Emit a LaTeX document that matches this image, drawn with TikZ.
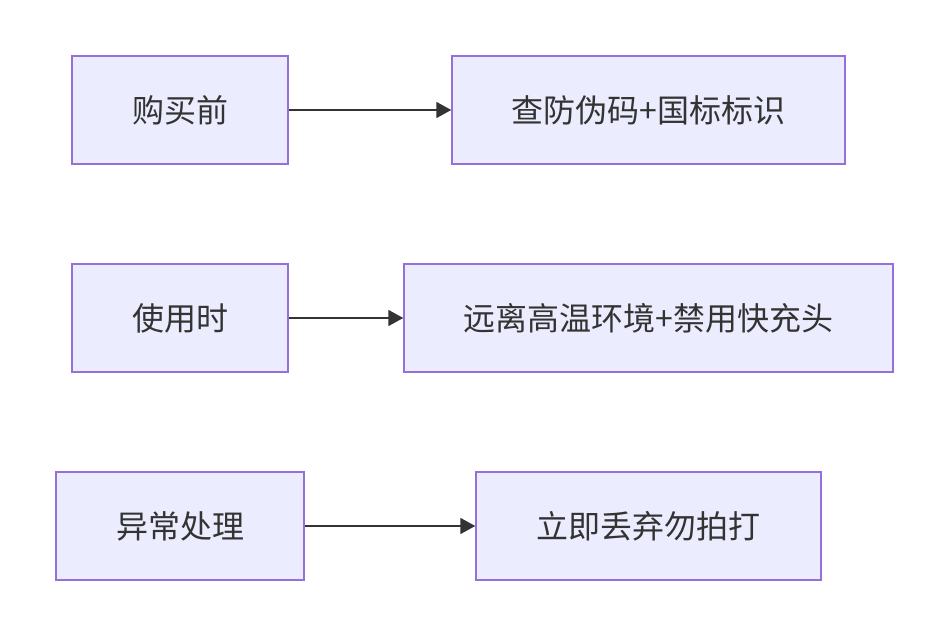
\documentclass[tikz,border=0pt]{standalone}
\usepackage{fontspec}
\setmainfont{Noto Sans CJK SC}
\usetikzlibrary{arrows.meta}
\definecolor{boxfill}{HTML}{ECECFF}
\definecolor{boxline}{HTML}{9370DB}
\definecolor{textgray}{HTML}{333333}
\tikzstyle{stage} = [rectangle, minimum height=108pt, text centered, draw=boxline, line width=1.5pt, fill=boxfill, text=textgray, font=\fontsize{32pt}{36pt}\selectfont, inner sep=0pt]
\tikzstyle{arrow} = [line width=1.8pt, draw=textgray, -{Triangle[length=15pt, width=16pt]}]

\begin{document}
\begin{tikzpicture}[x=1pt, y=-1pt] % 1 unit = 1 pixel of the target

\useasboundingbox (0,0) rectangle (948,636);

% Nodes
\node (buy) [stage, minimum width=216pt] at (180,110) {购买前};
\node (check) [stage, minimum width=393pt] at (648.5,110) {查防伪码+国标标识};
\node (use) [stage, minimum width=216pt] at (180,318) {使用时};
\node (keep) [stage, minimum width=489pt] at (648.5,318) {远离高温环境+禁用快充头};
\node (fault) [stage, minimum width=248pt] at (180,526) {异常处理};
\node (drop) [stage, minimum width=345pt] at (648.5,526) {立即丢弃勿拍打};

% Arrows
\draw [arrow] (buy) -- (check);
\draw [arrow] (use) -- (keep);
\draw [arrow] (fault) -- (drop);

\end{tikzpicture}
\end{document}
